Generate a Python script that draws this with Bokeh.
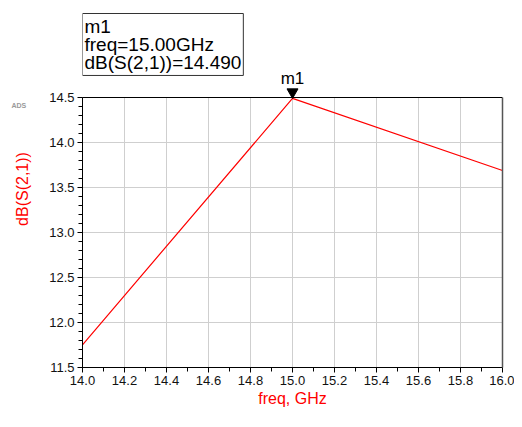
from bokeh.plotting import figure
from bokeh.models import (Range1d, SingleIntervalTicker, FixedTicker, PrintfTickFormatter,
                          Label, ColumnDataSource, Span, LinearAxis, Grid)
from bokeh.core.properties import value
from bokeh.transform import dodge
from bokeh.embed import file_html
from bokeh.resources import INLINE

# data
freq_ghz = [14.0, 15.0, 16.0]
db_s21 = [11.752, 14.490, 13.689]
marker_name = "m1"
marker_freq = 15.0
marker_db = 14.490
x_min, x_max = 14.0, 16.0
y_min, y_max = 11.5, 14.5

FONT = "Liberation Sans"

# layout (pixels)
W, H = 514, 411
LEFT, RIGHT_EDGE = 82, 502
TOP_PAD = 10
PLOT_TOP, PLOT_BOTTOM = 97, 367          # pixel rows of y_max and y_min
px_per_y = (PLOT_BOTTOM - PLOT_TOP) / (y_max - y_min)
y_top = y_max + (PLOT_TOP - TOP_PAD) / px_per_y   # frame extends nearly to the top

p = figure(width=W, height=H, output_backend="svg", toolbar_location=None,
           x_range=Range1d(x_min, x_max), y_range=Range1d(y_min, y_top),
           min_border_left=LEFT, min_border_top=TOP_PAD, min_border_right=W - RIGHT_EDGE,
           min_border_bottom=H - PLOT_BOTTOM)
p.outline_line_color = None

# axes
for ax in (p.xaxis[0], p.yaxis[0]):
    ax.axis_line_color = "black"
    ax.major_tick_line_color = "black"
    ax.minor_tick_line_color = "black"
    ax.major_tick_in = 0
    ax.major_tick_out = 5
    ax.minor_tick_in = 0
    ax.minor_tick_out = 4
    ax.major_label_text_font = FONT
    ax.major_label_text_font_size = "13px"
    ax.major_label_text_color = "#111111"
    ax.axis_label_text_font = FONT
    ax.axis_label_text_font_size = "16px"
    ax.axis_label_text_font_style = "normal"
    ax.axis_label_text_color = "#ff0000"
    ax.formatter = PrintfTickFormatter(format="%.1f")

p.xaxis.ticker = SingleIntervalTicker(interval=0.2, num_minor_ticks=2)
p.yaxis.ticker = SingleIntervalTicker(interval=0.5, num_minor_ticks=5)
p.yaxis.bounds = (y_min, y_max)
p.xaxis.axis_label = "freq, GHz"
p.yaxis.axis_label = "dB(S(2,1))"
p.xaxis.major_label_standoff = 3
p.yaxis.major_label_standoff = 3
p.xaxis.axis_label_standoff = 2
p.yaxis.axis_label_standoff = 15

p.ygrid.grid_line_color = "#cfcfcf"
p.ygrid.ticker = p.yaxis[0].ticker
p.ygrid.bounds = (y_min, y_max)

if "cross_bounds" in Grid.properties():
    p.xgrid.ticker = p.xaxis[0].ticker
    p.xgrid.grid_line_color = "#cfcfcf"
    p.xgrid.cross_bounds = (y_min, y_max)
else:
    p.xgrid.visible = False
    xt = [x_min + 0.2 * i for i in range(11)]
    p.segment(x0=xt, x1=xt, y0=[y_min] * len(xt), y1=[y_max] * len(xt),
              line_color="#cfcfcf", line_width=1)

# frame borders
p.add_layout(Span(location=y_max, dimension="width", line_color="black", line_width=1.2))
right_ax = LinearAxis(bounds=(y_min, y_max), ticker=FixedTicker(ticks=[]),
                      axis_line_color="#555555", axis_line_width=1.5)
p.add_layout(right_ax, "right")

# data line
p.line(freq_ghz, db_s21, line_color="#ff0000", line_width=1.2)

# marker triangle (apex on the point) and its name
tri_size = 11
tri_h = tri_size * 3 ** 0.5 / 2
msrc = ColumnDataSource(dict(x=[marker_freq], y=[marker_db], name=[marker_name]))
p.scatter(x="x", y=dodge("y", (2 * tri_h / 3) / px_per_y, range=None), source=msrc,
          marker="inverted_triangle", size=tri_size, fill_color="black", line_color="black")
p.text(x="x", y="y", text="name", source=msrc, text_align="center",
       text_baseline="bottom", text_font=value(FONT), text_font_size="17px",
       text_color="black", y_offset=-10)

# marker readout box
readout = Label(x=0, y=PLOT_BOTTOM - 13, x_units="screen", y_units="screen", anchor="top_left",
                text=f"{marker_name}\nfreq={marker_freq:.2f}GHz\ndB(S(2,1))={marker_db:.3f}",
                text_font=FONT, text_font_size="19px", text_color="black",
                text_line_height=0.88, padding=2,
                border_line_color="#333333", border_line_width=1,
                background_fill_color="white")
p.add_layout(readout)

# small software logo text, placed from the top panel (not clipped by the frame)
ads = Label(x=11 - LEFT, y=TOP_PAD - (PLOT_TOP + 8), x_units="screen", y_units="screen",
            anchor="center_left", text="ADS", text_font=FONT, text_font_size="7px",
            text_font_style="bold", text_color="#9a9a9a")
p.add_layout(ads, "above")

open("out.html", "w").write(file_html(p, INLINE))
